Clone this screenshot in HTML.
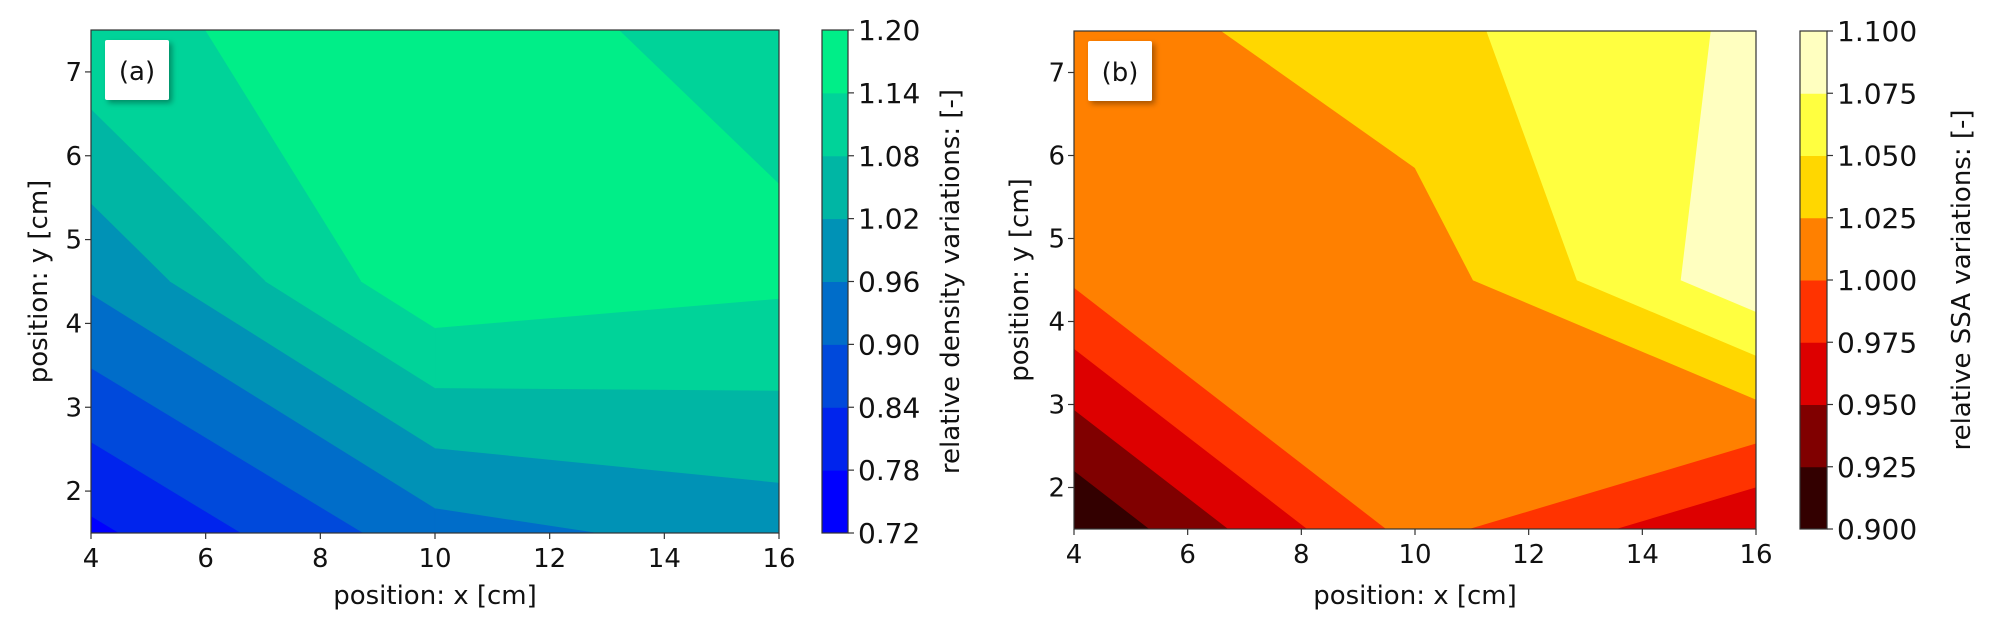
<!DOCTYPE html>
<html><head><meta charset="utf-8"><style>
html,body{margin:0;padding:0;background:#fff;}
svg{display:block;font-family:"DejaVu Sans","Liberation Sans",sans-serif;}
</style></head><body>
<svg id="fig" width="1994" height="632" viewBox="0 0 1994 632">
<defs><filter id="sh" x="-30%" y="-30%" width="160%" height="160%"><feDropShadow dx="3" dy="3" stdDeviation="3" flood-color="#000" flood-opacity="0.35"/></filter></defs>
</svg>
<script>
// ---- data ----
const xGrid = [4, 10, 16];
const yGrid = [1.5, 4.5, 7.5];
const densityRows = [
  [0.766, 0.935, 0.987],
  [0.97, 1.186, 1.151],
  [1.13, 1.16, 1.1225]
];
const ssaRows = [
  [0.901, 1.009, 0.951],
  [1.003, 1.011, 1.093],
  [1.012, 1.042, 1.080]
];
const densityLevels = [0.72, 0.78, 0.84, 0.90, 0.96, 1.02, 1.08, 1.14, 1.20];
const densityTickLabels = ["0.72","0.78","0.84","0.90","0.96","1.02","1.08","1.14","1.20"];
const ssaLevels = [0.900, 0.925, 0.950, 0.975, 1.000, 1.025, 1.050, 1.075, 1.100];
const ssaTickLabels = ["0.900","0.925","0.950","0.975","1.000","1.025","1.050","1.075","1.100"];
const densityColors = ["#0000ff","#0024ed","#0049db","#006dc9","#0092b6","#00b6a4","#00d399","#00ee88"];
const ssaColors = ["#330000","#800000","#dd0000","#ff3300","#ff8000","#ffd700","#ffff40","#ffffc0"];
const xTicks = [4, 6, 8, 10, 12, 14, 16];
const yTicks = [2, 3, 4, 5, 6, 7];

const NS = "http://www.w3.org/2000/svg";
const svg = document.getElementById("fig");
function mk(tag, attrs, parent) {
  const e = document.createElementNS(NS, tag);
  for (const k in attrs) e.setAttribute(k, attrs[k]);
  (parent || svg).appendChild(e);
  return e;
}
function clip(poly, f) { // keep f(v)>=0
  const out = [];
  for (let i = 0; i < poly.length; i++) {
    const a = poly[i], b = poly[(i + 1) % poly.length];
    const fa = f(a[2]), fb = f(b[2]);
    if (fa >= 0) out.push(a);
    if ((fa >= 0) !== (fb >= 0)) {
      const t = fa / (fa - fb);
      out.push([a[0] + t * (b[0] - a[0]), a[1] + t * (b[1] - a[1]), a[2] + t * (b[2] - a[2])]);
    }
  }
  return out;
}
function panel(cfg) {
  const X0 = cfg.x0, X1 = cfg.x1, Y0 = cfg.y0, Y1 = cfg.y1;
  const sx = v => X0 + (v - 4) / 12 * (X1 - X0);
  const sy = v => Y1 - (v - 1.5) / 6 * (Y1 - Y0);
  const g = mk("g", {});
  
  
  const lv = cfg.levels, cols = cfg.colors;
  const bandGroups = [];
  for (let b = 0; b < cols.length; b++) {
    const bg = mk("g", {fill: cols[b], stroke: cols[b], "stroke-width": 0.8}, g);
    
    
    bandGroups.push(bg);
  }
  const z = cfg.rows;
  for (let j = 0; j < yGrid.length - 1; j++) {
    for (let i = 0; i < xGrid.length - 1; i++) {
      const quad = [
        [sx(xGrid[i]), sy(yGrid[j]), z[j][i]],
        [sx(xGrid[i+1]), sy(yGrid[j]), z[j][i+1]],
        [sx(xGrid[i+1]), sy(yGrid[j+1]), z[j+1][i+1]],
        [sx(xGrid[i]), sy(yGrid[j+1]), z[j+1][i]]
      ];
      for (let b = 0; b < cols.length; b++) {
        const lo = b === 0 ? -1e9 : lv[b], hi = b === cols.length - 1 ? 1e9 : lv[b+1];
        let p = clip(quad, v => v - lo);
        if (p.length < 3) continue;
        p = clip(p, v => hi - v);
        if (p.length < 3) continue;
        const poly = mk("polygon", {points: p.map(q => q[0].toFixed(2) + "," + q[1].toFixed(2)).join(" ")}, bandGroups[b]);
        
        
      }
    }
  }
  const frame = mk("rect", {x: X0, y: Y0, width: X1 - X0, height: Y1 - Y0, fill: "none", stroke: "#333", "stroke-width": 1.2});
  
  
  for (const t of xTicks) {
    const l = mk("line", {x1: sx(t), x2: sx(t), y1: Y1, y2: Y1 + 6, stroke: "#333", "stroke-width": 1.2});
    
    
    const tx = mk("text", {x: sx(t), y: Y1 + 34, "text-anchor": "middle", "font-size": 26, fill: "#111"});
    tx.textContent = t;
    
    
  }
  for (const t of yTicks) {
    const l = mk("line", {x1: X0 - 6, x2: X0, y1: sy(t), y2: sy(t), stroke: "#333", "stroke-width": 1.2});
    
    
    const tx = mk("text", {x: X0 - 9, y: sy(t) + 9, "text-anchor": "end", "font-size": 26, fill: "#111"});
    tx.textContent = t;
    
    
  }
  const xl = mk("text", {x: (X0 + X1) / 2, y: 604, "text-anchor": "middle", "font-size": 26, fill: "#111"});
  xl.textContent = "position: x [cm]";
  
  
  const yl = mk("text", {x: 0, y: 0, transform: `translate(${cfg.yTitleX},${(Y0 + Y1) / 2}) rotate(-90)`, "text-anchor": "middle", "font-size": 26, fill: "#111"});
  yl.textContent = "position: y [cm]";
  
  
  const bx = mk("rect", {x: X0 + 14, y: Y0 + 10, width: 64, height: 60, fill: "#fff", rx: 2, filter: "url(#sh)"});
  
  
  const bt = mk("text", {x: X0 + 46, y: Y0 + 50, "text-anchor": "middle", "font-size": 26, fill: "#111"});
  bt.textContent = cfg.tag;
  
  
  const C0 = cfg.cbx0, C1 = cfg.cbx1;
  const cy = v => Y1 - (v - lv[0]) / (lv[lv.length - 1] - lv[0]) * (Y1 - Y0);
  const cb = mk("g", {});
  
  
  for (let b = 0; b < cols.length; b++) {
    const r = mk("rect", {x: C0, y: cy(lv[b+1]), width: C1 - C0, height: cy(lv[b]) - cy(lv[b+1]) + 0.5, fill: cols[b]}, cb);
    
    
  }
  mk("rect", {x: C0, y: Y0, width: C1 - C0, height: Y1 - Y0, fill: "none", stroke: "#333", "stroke-width": 1.2}, cb);
  for (let k = 0; k < lv.length; k++) {
    const l = mk("line", {x1: C1, x2: C1 + 6, y1: cy(lv[k]), y2: cy(lv[k]), stroke: "#333", "stroke-width": 1.2}, cb);
    
    
    const tx = mk("text", {x: C1 + 10, y: cy(lv[k]) + 10, "font-size": 28, fill: "#111"}, cb);
    tx.textContent = cfg.tickLabels[k];
    
    
  }
  const ct = mk("text", {x: 0, y: 0, transform: `translate(${cfg.cbTitleX},${(Y0 + Y1) / 2}) rotate(-90)`, "text-anchor": "middle", "font-size": 26, fill: "#111"});
  ct.textContent = cfg.cbTitle;
  
  
}
panel({name: "density", tag: "(a)", x0: 91, x1: 779, y0: 30, y1: 533, rows: densityRows, levels: densityLevels, colors: densityColors, tickLabels: densityTickLabels, cbx0: 822, cbx1: 848, yTitleX: 47, cbTitleX: 959, cbTitle: "relative density variations: [-]"});
panel({name: "ssa", tag: "(b)", x0: 1074, x1: 1756, y0: 31, y1: 529, rows: ssaRows, levels: ssaLevels, colors: ssaColors, tickLabels: ssaTickLabels, cbx0: 1800, cbx1: 1827, yTitleX: 1028, cbTitleX: 1970, cbTitle: "relative SSA variations: [-]"});
</script>
</body></html>
